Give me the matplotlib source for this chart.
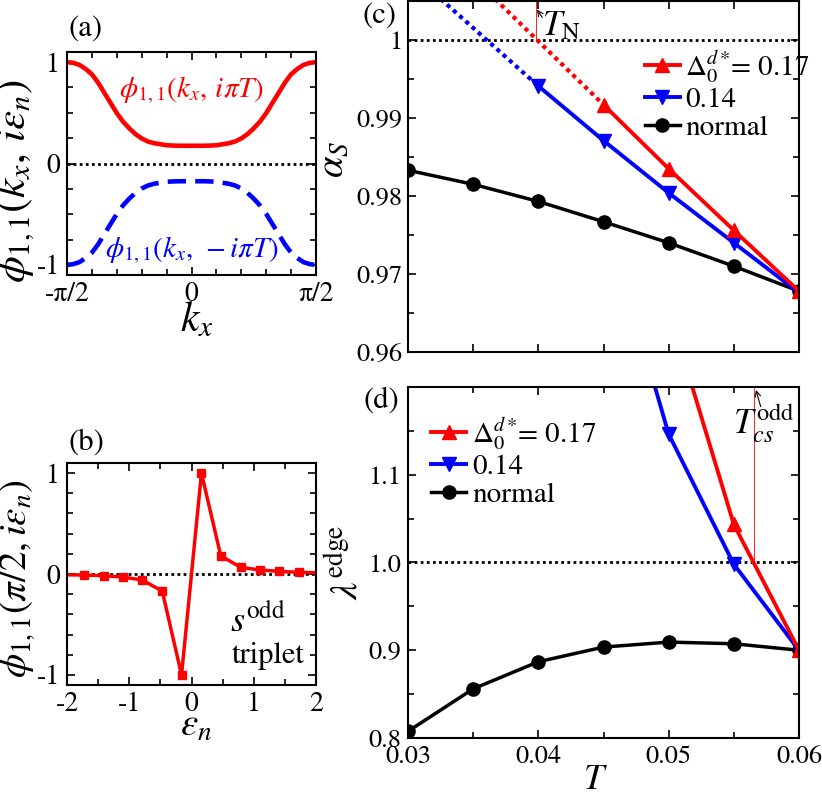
import numpy as np
import matplotlib
matplotlib.use('Agg')
import matplotlib.pyplot as plt
from matplotlib.ticker import MultipleLocator, FixedLocator

plt.rcParams['font.family'] = ['STIXGeneral', 'DejaVu Serif']
plt.rcParams['mathtext.fontset'] = 'stix'
plt.rcParams['axes.unicode_minus'] = False

# (a) gap function along k_x (k_x in units of pi/2)
kx_frac = np.linspace(-1, 1, 41)
phi_pos = [1.0, 0.993, 0.973, 0.933, 0.88, 0.797, 0.697, 0.597, 0.497, 0.413,
           0.347, 0.29, 0.247, 0.217, 0.2, 0.19, 0.18, 0.177, 0.175, 0.175,
           0.175,
           0.175, 0.175, 0.177, 0.18, 0.19, 0.2, 0.217, 0.247, 0.29, 0.347,
           0.413, 0.497, 0.597, 0.697, 0.797, 0.88, 0.933, 0.973, 0.993, 1.0]
phi_neg = [-1.0, -0.993, -0.973, -0.933, -0.88, -0.797, -0.697, -0.597, -0.497, -0.413,
           -0.347, -0.29, -0.247, -0.217, -0.2, -0.19, -0.18, -0.177, -0.175, -0.175,
           -0.175,
           -0.175, -0.175, -0.177, -0.18, -0.19, -0.2, -0.217, -0.247, -0.29, -0.347,
           -0.413, -0.497, -0.597, -0.697, -0.797, -0.88, -0.933, -0.973, -0.993, -1.0]

# (b) Matsubara frequency dependence at k_x = pi/2
eps_n = [-2.04, -1.73, -1.41, -1.10, -0.79, -0.47, -0.16,
         0.16, 0.47, 0.79, 1.10, 1.41, 1.73, 2.04]
phi_eps = [-0.008, -0.01, -0.017, -0.03, -0.06, -0.17, -1.0,
           1.0, 0.18, 0.066, 0.04, 0.026, 0.017, 0.012]

# (c) alpha_S vs T
T = [0.03, 0.035, 0.04, 0.045, 0.05, 0.055, 0.06]
alpha_normal = [0.9833, 0.9815, 0.9793, 0.9767, 0.9740, 0.9710, 0.9678]
T_red_c = [0.045, 0.05, 0.055, 0.06]
alpha_red = [0.9917, 0.9835, 0.9756, 0.9678]
T_red_c_ext = [0.035, 0.045]
alpha_red_ext = [1.0080, 0.9917]
T_blue_c = [0.04, 0.045, 0.05, 0.055, 0.06]
alpha_blue = [0.9941, 0.9871, 0.9804, 0.9740, 0.9676]
T_blue_c_ext = [0.03, 0.04]
alpha_blue_ext = [1.0090, 0.9941]
T_N = 0.0398

# (d) lambda_edge vs T
lam_normal = [0.8076, 0.856, 0.8869, 0.9036, 0.9093, 0.9074, 0.900]
T_red_d = [0.05, 0.055, 0.06]
lam_red = [1.289, 1.0434, 0.900]
T_blue_d = [0.045, 0.05, 0.055, 0.06]
lam_blue = [1.402, 1.1463, 0.998, 0.900]
T_cs_odd = 0.05655

label_red = r'$\Delta_0^{d*}\!$= 0.17'
label_blue = '0.14'
label_normal = 'normal'

red = '#ff0000'
blue = '#0000ff'

fig = plt.figure(figsize=(8.22, 7.92), dpi=100)
W, H = 822.0, 792.0


def box(l, t, r, b):
    return [l / W, 1 - b / H, (r - l) / W, (b - t) / H]


ax_a = fig.add_axes(box(67, 52, 316, 275))
ax_b = fig.add_axes(box(67, 463, 316, 685))
ax_c = fig.add_axes(box(408, 1, 799, 352))
ax_d = fig.add_axes(box(408, 387, 799, 738))

for ax in (ax_a, ax_b, ax_c, ax_d):
    ax.tick_params(which='both', direction='in', top=True, right=True, width=1.2)
    ax.tick_params(which='major', length=6)
    ax.tick_params(which='minor', length=4)
    for sp in ax.spines.values():
        sp.set_linewidth(1.5)

# ---- (a)
kx = kx_frac * np.pi / 2
ax_a.axhline(0, color='k', lw=2, dashes=(1, 1.2))
ax_a.plot(kx, phi_pos, color=red, lw=3.3, solid_capstyle='butt')
ax_a.plot(kx, phi_neg, color=blue, lw=3.3, dashes=(4, 2))
ax_a.set_xlim(-np.pi / 2, np.pi / 2)
ax_a.set_ylim(-1.1, 1.1)
ax_a.set_xticks([-np.pi / 2, 0, np.pi / 2])
ax_a.set_xticklabels(['-π/2', '0', 'π/2'])
ax_a.xaxis.set_minor_locator(MultipleLocator(np.pi / 10))
ax_a.set_yticks([-1, 0, 1])
ax_a.set_yticklabels(['-1', '0', '1'])
ax_a.yaxis.set_minor_locator(MultipleLocator(0.25))
ax_a.tick_params(labelsize=20, pad=5)
ax_a.text(0, 0.72, r'$\phi_{1,1}(k_x,\,i\pi T)$', color=red, fontsize=21,
          ha='center', va='center')
ax_a.text(0, -0.86, r'$\phi_{1,1}(k_x,\,-i\pi T)$', color=blue, fontsize=21,
          ha='center', va='center')
ax_a.set_ylabel(r'$\phi_{1,1}(k_x,\,i\epsilon_n)$', fontsize=31)
ax_a.yaxis.set_label_coords(-0.12, 0.42)
ax_a.set_xlabel(r'$k_x$', fontsize=30)
ax_a.xaxis.set_label_coords(0.52, -0.115)
fig.text(86 / W, 1 - 29 / H, '(a)', fontsize=22, ha='center', va='center')

# ---- (b)
ax_b.axhline(0, color='k', lw=2, dashes=(1, 1.2))
ax_b.plot(eps_n, phi_eps, color=red, lw=2.5, marker='s', ms=6,
          markevery=slice(1, -1))
ax_b.set_xlim(-2, 2)
ax_b.set_ylim(-1.1, 1.1)
ax_b.set_xticks([-2, -1, 0, 1, 2])
ax_b.xaxis.set_minor_locator(MultipleLocator(0.5))
ax_b.set_yticks([-1, 0, 1])
ax_b.set_yticklabels(['-1', '0', '1'])
ax_b.yaxis.set_minor_locator(MultipleLocator(0.2))
ax_b.tick_params(labelsize=20, pad=5)
ax_b.text(0.62, -0.475, r'$s^{\rm odd}$', fontsize=26, ha='left', va='center')
ax_b.text(0.65, -0.81, 'triplet', fontsize=22, ha='left', va='center')
ax_b.set_ylabel(r'$\phi_{1,1}(\pi/2,i\epsilon_n)$', fontsize=28)
ax_b.yaxis.set_label_coords(-0.12, 0.48)
ax_b.set_xlabel(r'$\epsilon_n$', fontsize=28)
ax_b.xaxis.set_label_coords(0.52, -0.11)
fig.text(86 / W, 1 - 443 / H, '(b)', fontsize=22, ha='center', va='center')

# ---- (c)
ax_c.axhline(1.0, color='k', lw=2, dashes=(1, 1.2))
ax_c.vlines(T_N, 1.0, 1.006, color=red, lw=0.6)
ax_c.plot(T_red_c_ext, alpha_red_ext, color=red, lw=3, dashes=(1, 1))
ax_c.plot(T_blue_c_ext, alpha_blue_ext, color=blue, lw=3, dashes=(1, 1))
ax_c.plot(T, alpha_normal, color='k', lw=2.5, marker='o', ms=9.5, label=label_normal)
ax_c.plot(T_blue_c, alpha_blue, color=blue, lw=2.8, marker='v', ms=10, label=label_blue)
ax_c.plot(T_red_c, alpha_red, color=red, lw=2.8, marker='^', ms=10, label=label_red)
ax_c.annotate('', xy=(0.0399, 1.0039), xytext=(0.0403, 1.0029),
              arrowprops=dict(arrowstyle='->', lw=0.8, color='k', shrinkA=0, shrinkB=0))
ax_c.text(0.0403, 1.0006, r'$T_{\rm N}$', fontsize=25, ha='left', va='baseline')
ax_c.set_xlim(0.03, 0.06)
ax_c.set_ylim(0.96, 1.005)
ax_c.xaxis.set_major_locator(MultipleLocator(0.005))
ax_c.set_xticklabels([])
ax_c.yaxis.set_major_locator(FixedLocator([0.96, 0.97, 0.98, 0.99, 1.0]))
ax_c.set_yticklabels(['0.96', '0.97', '0.98', '0.99', '1'])
ax_c.yaxis.set_minor_locator(MultipleLocator(0.005))
ax_c.tick_params(labelsize=19, pad=4)
h, l = ax_c.get_legend_handles_labels()
ax_c.legend(h[::-1], l[::-1], loc='upper left', bbox_to_anchor=(0.605, 0.865),
            frameon=False, fontsize=21, handlelength=1.2, handletextpad=0.2,
            labelspacing=0.05, borderpad=0, borderaxespad=0)
ax_c.set_ylabel(r'$\alpha_S$', fontsize=28)
ax_c.yaxis.set_label_coords(-0.145, 0.55)
fig.text(379 / W, 1 - 16 / H, '(c)', fontsize=22, ha='center', va='center')

# ---- (d)
ax_d.axhline(1.0, color='k', lw=2, dashes=(1, 1.2))
ax_d.vlines(T_cs_odd, 1.0, 1.21, color=red, lw=0.6)
ax_d.plot(T, lam_normal, color='k', lw=2.5, marker='o', ms=9.5, label=label_normal)
ax_d.plot(T_blue_d, lam_blue, color=blue, lw=2.8, marker='v', ms=10, label=label_blue)
ax_d.plot(T_red_d, lam_red, color=red, lw=2.8, marker='^', ms=10, label=label_red)
ax_d.annotate('', xy=(0.0567, 1.1966), xytext=(0.05706, 1.1776),
              arrowprops=dict(arrowstyle='->', lw=0.8, color='k', shrinkA=0, shrinkB=0))
ax_d.text(0.0549, 1.1476, r'$T_{cs}^{\rm odd}$', fontsize=25, ha='left', va='baseline')
ax_d.set_xlim(0.03, 0.06)
ax_d.set_ylim(0.8, 1.2)
ax_d.set_xticks([0.03, 0.04, 0.05, 0.06])
ax_d.set_xticklabels(['0.03', '0.04', '0.05', '0.06'])
ax_d.xaxis.set_minor_locator(MultipleLocator(0.005))
ax_d.yaxis.set_major_locator(FixedLocator([0.8, 0.9, 1.0, 1.1]))
ax_d.set_yticklabels(['0.8', '0.9', '1.0', '1.1'])
ax_d.yaxis.set_minor_locator(FixedLocator([0.85, 0.95, 1.05, 1.15]))
ax_d.tick_params(labelsize=19, pad=5)
h, l = ax_d.get_legend_handles_labels()
ax_d.legend(h[::-1], l[::-1], loc='upper left', bbox_to_anchor=(0.06, 0.92),
            frameon=False, fontsize=21, handlelength=1.2, handletextpad=0.2,
            labelspacing=0.05, borderpad=0, borderaxespad=0)
ax_d.set_ylabel(r'$\lambda^{\rm edge}$', fontsize=28)
ax_d.yaxis.set_label_coords(-0.11, 0.5)
ax_d.set_xlabel(r'$T$', fontsize=26)
ax_d.xaxis.set_label_coords(0.48, -0.075)
fig.text(381 / W, 1 - 401 / H, '(d)', fontsize=22, ha='center', va='center')

fig.savefig('out.png', dpi=100)
